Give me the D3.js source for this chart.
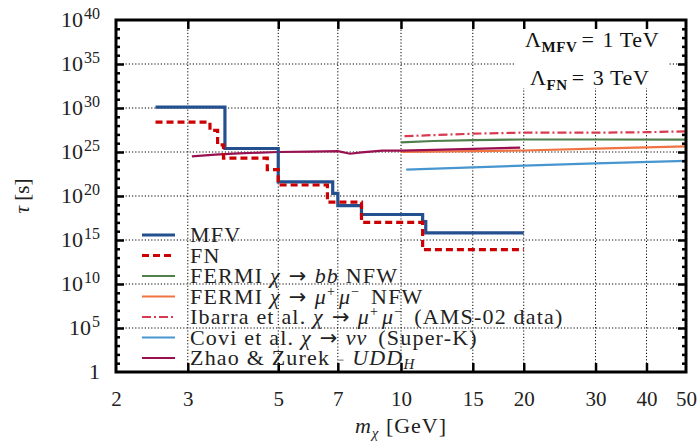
<!DOCTYPE html>
<html lang="en">
<head>
  <meta charset="UTF-8">
  <title>Dark matter lifetime bounds</title>
  <script src="https://d3js.org/d3.v7.min.js"></script>
  <style>
    body {
      margin: 0;
      padding: 0;
      background: #fff;
      font-family: 'Liberation Serif', serif;
    }
    .axis path { display: none; }
    .axis line { stroke: #000; stroke-width: 2.5; }
    .axis text { font-family: 'Liberation Serif', serif; font-size: 21px; fill: #222; }
    .grid line { stroke: #000; stroke-width: 1; stroke-dasharray: 1.2,2; }
    .legend text { font-size: 22px; fill: #222; letter-spacing: 1.2px; }
  </style>
</head>
<body>
  <div id="chart"></div>
  <script>
    // x ticks (GeV) and y decades
    const xTicks = [2, 3, 5, 7, 10, 15, 20, 30, 40, 50];
    const yMajorExp = [0, 5, 10, 15, 20, 25, 30, 35, 40];

    // step bounds: bin edges (GeV) and log10(tau/s) per bin
    const mfvEdges = [2.5, 3.7, 5, 6.8, 7, 8, 11.3, 11.5, 20];
    const mfvExp = [30.1, 25.4, 21.6, 20.3, 18.9, 17.9, 17.1, 15.8];
    const fnEdges = [2.5, 3.4, 3.55, 3.67, 4.7, 5, 6.6, 8, 11.3, 20];
    const fnExp = [28.4, 27.45, 25.8, 24.3, 23.0, 21.25, 19.3, 17.0, 13.9];

    // experimental / other bounds
    const fermiBbM = [10, 12, 15, 20, 30, 50];
    const fermiBbExp = [26.1, 26.25, 26.35, 26.42, 26.42, 26.4];
    const fermiMuM = [10, 15, 20, 30, 50];
    const fermiMuExp = [25.0, 25.1, 25.17, 25.38, 25.65];
    const ibarraM = [10.2, 15, 20, 30, 40, 50];
    const ibarraExp = [26.8, 27.08, 27.2, 27.2, 27.25, 27.35];
    const coviM = [10.3, 15, 20, 30, 50];
    const coviExp = [23.0, 23.26, 23.45, 23.7, 24.0];
    const zhaoM = [3.07, 3.5, 4, 5, 6, 7, 7.5, 8, 9, 10, 12, 15, 19.6];
    const zhaoExp = [24.5, 24.7, 24.85, 25.0, 25.05, 25.1, 24.8, 24.95, 25.15, 25.15, 25.25, 25.35, 25.5];

    const width = 700, height = 444;
    const margin = { top: 20, right: 14, bottom: 72, left: 116 };
    const innerW = width - margin.left - margin.right;
    const innerH = height - margin.top - margin.bottom;

    const svg = d3.select("#chart").append("svg")
      .attr("width", width)
      .attr("height", height);
    const g = svg.append("g")
      .attr("transform", `translate(${margin.left},${margin.top})`);

    const x = d3.scaleLog().domain([2, 50]).range([0, innerW]);
    const y = d3.scaleLog().domain([1, 1e40]).range([innerH, 0]);
    const yv = e => y(Math.pow(10, e));

    const innerX = xTicks.slice(1, -1);
    const innerY = yMajorExp.slice(1, -1).map(e => Math.pow(10, e));

    // grid
    g.append("g").attr("class", "grid")
      .selectAll("line").data(innerX).enter().append("line")
      .attr("x1", d => x(d)).attr("x2", d => x(d))
      .attr("y1", 0).attr("y2", innerH);
    g.append("g").attr("class", "grid")
      .selectAll("line").data(innerY).enter().append("line")
      .attr("y1", d => y(d)).attr("y2", d => y(d))
      .attr("x1", 0).attr("x2", innerW);

    // lines
    const series = [
      { m: fermiBbM, e: fermiBbExp, color: "#4f7f4a", w: 2.2, dash: null },
      { m: fermiMuM, e: fermiMuExp, color: "#f07442", w: 2.2, dash: null },
      { m: ibarraM, e: ibarraExp, color: "#d83a50", w: 2.2, dash: "9,3,2,3" },
      { m: coviM, e: coviExp, color: "#4896cf", w: 2.2, dash: null },
      { m: zhaoM, e: zhaoExp, color: "#991050", w: 2.2, dash: null }
    ];
    const line = d3.line().x(d => x(d[0])).y(d => yv(d[1]));
    series.forEach(s => {
      g.append("path")
        .datum(s.m.map((m, i) => [m, s.e[i]]))
        .attr("d", line)
        .attr("fill", "none")
        .attr("stroke", s.color)
        .attr("stroke-width", s.w)
        .attr("stroke-dasharray", s.dash);
    });

    const stepLine = d3.line().x(d => x(d[0])).y(d => yv(d[1])).curve(d3.curveStepAfter);
    function stepPts(edges, vals) {
      const pts = vals.map((v, i) => [edges[i], v]);
      pts.push([edges[edges.length - 1], vals[vals.length - 1]]);
      return pts;
    }
    g.append("path")
      .datum(stepPts(mfvEdges, mfvExp))
      .attr("d", stepLine)
      .attr("fill", "none")
      .attr("stroke", "#25508f")
      .attr("stroke-width", 3.2);
    g.append("path")
      .datum(stepPts(fnEdges, fnExp))
      .attr("d", stepLine)
      .attr("fill", "none")
      .attr("stroke", "#cc0000")
      .attr("stroke-width", 3.2)
      .attr("stroke-dasharray", "7,4");

    // annotation box
    g.append("rect")
      .attr("x", 400).attr("y", 2)
      .attr("width", 152).attr("height", 66)
      .attr("fill", "#fff");
    const ann = g.append("g").attr("font-size", 22).attr("fill", "#111").attr("letter-spacing", 0.6);
    function lambda(xPos, yPos, sub, rest) {
      const t = ann.append("text").attr("x", xPos).attr("y", yPos);
      t.append("tspan").text("Λ");
      t.append("tspan").attr("dy", 5).attr("font-size", 15).attr("font-weight", "bold").text(sub);
      t.append("tspan").attr("dy", -5).attr("dx", 4).text("=");
      t.append("tspan").attr("dx", 8).text(rest);
    }
    lambda(409, 27, "MFV", "1 TeV");
    lambda(414, 65, "FN", "3 TeV");

    // axes: ticks point inward
    const fmtX = d3.format("d");
    g.append("g").attr("class", "axis")
      .attr("transform", `translate(0,${innerH})`)
      .call(d3.axisBottom(x).tickValues(xTicks).tickFormat(fmtX).tickSize(-9).tickPadding(19))
      .selectAll(".tick line").filter(d => d === 2 || d === 50).remove();
    g.append("g").attr("class", "axis")
      .call(d3.axisTop(x).tickValues(innerX).tickFormat("").tickSize(-9));

    g.append("g").attr("class", "axis")
      .call(d3.axisLeft(y).tickValues(innerY).tickFormat("").tickSize(-8));
    g.append("g").attr("class", "axis")
      .attr("transform", `translate(${innerW},0)`)
      .call(d3.axisRight(y).tickValues(innerY).tickFormat("").tickSize(-8));
    const minor = d3.range(1, 40).filter(e => e % 5 !== 0).map(e => Math.pow(10, e));
    g.append("g").attr("class", "axis")
      .call(d3.axisLeft(y).tickValues(minor).tickFormat("").tickSize(-4));
    g.append("g").attr("class", "axis")
      .attr("transform", `translate(${innerW},0)`)
      .call(d3.axisRight(y).tickValues(minor).tickFormat("").tickSize(-4));

    // y labels 10^n
    const yLab = g.append("g").attr("font-size", 22).attr("fill", "#222");
    yMajorExp.forEach(e => {
      const t = yLab.append("text")
        .attr("x", -16).attr("y", yv(e)).attr("dy", "0.34em")
        .attr("text-anchor", "end");
      if (e === 0) { t.text("1"); return; }
      t.append("tspan").text("10");
      t.append("tspan").attr("dy", "-0.55em").attr("dx", 1).attr("font-size", 16).text(e);
    });

    // frame
    g.append("rect")
      .attr("width", innerW).attr("height", innerH)
      .attr("fill", "none").attr("stroke", "#000").attr("stroke-width", 3);

    // axis titles
    const xt = svg.append("text")
      .attr("x", margin.left + innerW / 2).attr("y", 433)
      .attr("text-anchor", "middle").attr("font-size", 22).attr("fill", "#222")
      .attr("letter-spacing", 1);
    xt.append("tspan").attr("font-style", "italic").text("m");
    xt.append("tspan").attr("font-style", "italic").attr("font-size", 15).attr("dy", 5).text("χ");
    xt.append("tspan").attr("dy", -5).text(" [GeV]");

    const yt = svg.append("text")
      .attr("transform", `translate(29,${margin.top + innerH / 2}) rotate(-90)`)
      .attr("text-anchor", "middle").attr("font-size", 21).attr("fill", "#222");
    yt.append("tspan").attr("font-style", "italic").text("τ");
    yt.append("tspan").text(" [s]");

    // legend
    const legend = [
      { color: "#25508f", w: 3.2, dash: null, parts: [["MFV"]] },
      { color: "#cc0000", w: 3.2, dash: "7,4", parts: [["FN"]] },
      { color: "#4f7f4a", w: 2.2, dash: null, parts: [["FERMI "], ["χ", "i"], ["→", "arr"], ["bb", "ia"], [" NFW"]] },
      { color: "#f07442", w: 2.2, dash: null, parts: [["FERMI "], ["χ", "i"], ["→", "arr"], ["μ", "ia"], ["+", "sup"], ["μ", "ib"], ["−", "sup"], [" NFW", "w"]] },
      { color: "#d83a50", w: 2.2, dash: "9,3,2,3", parts: [["Ibarra et al. "], ["χ", "i"], ["→", "arr"], ["μ", "ia"], ["+", "sup"], ["μ", "ib"], ["−", "sup"], [" (AMS-02 data)", "w"]] },
      { color: "#4896cf", w: 2.2, dash: null, parts: [["Covi et al. "], ["χ", "i"], ["→", "arr"], ["νν", "ia"], [" (Super-K)", "w"]] },
      { color: "#991050", w: 2.2, dash: null, parts: [["Zhao & Zurek "], ["-", "gray"], [" "], ["UDD", "i"], ["H", "sub"]] }
    ];
    const lg = svg.append("g").attr("class", "legend");
    legend.forEach((d, i) => {
      const cy = 235 + i * 20.5;
      lg.append("line")
        .attr("x1", 142).attr("x2", 175).attr("y1", cy).attr("y2", cy)
        .attr("stroke", d.color).attr("stroke-width", d.w)
        .attr("stroke-dasharray", d.dash);
      const t = lg.append("text").attr("x", 190).attr("y", cy + 7);
      let shift = 0;
      d.parts.forEach(p => {
        const ts = t.append("tspan").text(p[0]);
        let target = 0;
        if (p[1] === "i") ts.attr("font-style", "italic");
        if (p[1] === "ia") ts.attr("font-style", "italic").attr("dx", 7);
        if (p[1] === "ib") ts.attr("font-style", "italic").attr("dx", 3);
        if (p[1] === "w") ts.attr("dx", 4);
        if (p[1] === "arr") ts.attr("dx", 8).attr("font-family", "DejaVu Sans").attr("font-size", 21);
        if (p[1] === "gray") ts.attr("fill", "#aaa");
        if (p[1] === "sup") { target = -8; ts.attr("font-size", 14); }
        if (p[1] === "sub") { target = 4; ts.attr("font-size", 15).attr("font-style", "italic"); }
        if (target !== shift) { ts.attr("dy", target - shift); shift = target; }
      });
    });
  </script>
</body>
</html>
